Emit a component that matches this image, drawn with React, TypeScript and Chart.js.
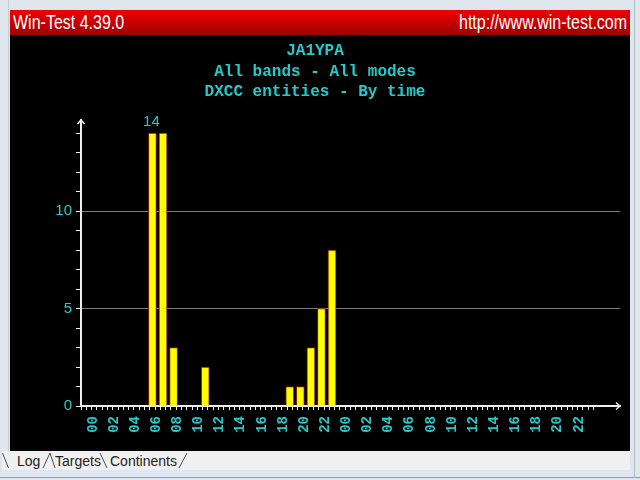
import React, { useEffect, useRef } from "react";
import { Chart, registerables } from "chart.js";

Chart.register(...registerables);

// ---- data ----
const titleLines = ["JA1YPA", "All bands - All modes", "DXCC entities - By time"];
const hourLabels = [
  "00", "01", "02", "03", "04", "05", "06", "07", "08", "09", "10", "11",
  "12", "13", "14", "15", "16", "17", "18", "19", "20", "21", "22", "23",
  "00", "01", "02", "03", "04", "05", "06", "07", "08", "09", "10", "11",
  "12", "13", "14", "15", "16", "17", "18", "19", "20", "21", "22", "23",
];
const dxccCounts = [
  0, 0, 0, 0, 0, 0, 14, 14, 3, 0, 0, 2,
  0, 0, 0, 0, 0, 0, 0, 1, 1, 3, 5, 8,
  0, 0, 0, 0, 0, 0, 0, 0, 0, 0, 0, 0,
  0, 0, 0, 0, 0, 0, 0, 0, 0, 0, 0, 0,
];
const yLabelValues = [0, 5, 10];
const yMax = 14.67;
const tabNames = ["Log", "Targets", "Continents"];

// ---- styles ----
const CYAN = "#22cccc";
const AXIS = "#eeeeee";
const GRID = "#7a7a7a";

const decorPlugin = {
  id: "decor",
  afterDraw(chart: any) {
    const { ctx, chartArea: a } = chart;
    ctx.save();
    ctx.strokeStyle = AXIS;
    ctx.lineWidth = 1.5;
    ctx.beginPath();
    ctx.moveTo(a.left - 3.5, a.top + 4);
    ctx.lineTo(a.left, a.top);
    ctx.lineTo(a.left + 3.5, a.top + 4);
    ctx.stroke();
    ctx.beginPath();
    ctx.moveTo(a.right - 4, a.bottom - 3.5);
    ctx.lineTo(a.right, a.bottom);
    ctx.lineTo(a.right - 4, a.bottom + 3.5);
    ctx.stroke();
    // max label
    const maxVal = Math.max(...dxccCounts);
    const idx = dxccCounts.indexOf(maxVal);
    const el = chart.getDatasetMeta(0).data[idx];
    if (el) {
      ctx.fillStyle = CYAN;
      ctx.font = "15px 'Liberation Sans', Arial, sans-serif";
      ctx.textAlign = "center";
      ctx.textBaseline = "bottom";
      ctx.fillText(String(maxVal), el.x - 1, el.y - 4);
    }
    ctx.restore();
  },
};

function ChartCanvas() {
  const ref = useRef<HTMLCanvasElement | null>(null);
  useEffect(() => {
    const canvas = ref.current;
    if (!canvas) return;
    const xTickValues: number[] = [];
    for (let i = -1; i < hourLabels.length * 2; i++) xTickValues.push(i / 2);
    const yTickValues: number[] = [];
    for (let v = 0; v <= Math.floor(yMax); v++) yTickValues.push(v);

    const points = dxccCounts.map((v, i) => ({ x: i, y: v === 0 ? null : v }));

    const chart = new Chart(canvas, {
      type: "bar",
      data: {
        datasets: [
          {
            data: points as any,
            backgroundColor: "#ffff00",
            borderColor: "#8a2200",
            borderWidth: 1,
            borderSkipped: "start",
            barThickness: 8,
          },
        ],
      },
      options: {
        animation: false,
        responsive: false,
        devicePixelRatio: 1,
        layout: { padding: { left: 0, right: 10, top: 0, bottom: 0 } },
        plugins: {
          legend: { display: false },
          tooltip: { enabled: false },
          title: {
            display: true,
            text: titleLines,
            color: CYAN,
            font: { family: "'Liberation Mono', 'Courier New', monospace", size: 16, weight: "bold", lineHeight: 1.28 },
            padding: { top: 6, bottom: 17.5 },
          },
        },
        scales: {
          x: {
            type: "linear",
            bounds: "data",
            min: -0.5,
            max: 50,
            afterBuildTicks: (s: any) => {
              s.ticks = xTickValues.map((v) => ({ value: v }));
            },
            afterFit: (s: any) => {
              s.height = 45;
            },
            ticks: {
              autoSkip: false,
              minRotation: 90,
              maxRotation: 90,
              labelOffset: 4,
              padding: 6,
              color: CYAN,
              font: { family: "'Liberation Mono', monospace", size: 14, weight: "bold" },
              callback: (v: any) => {
                const n = Number(v);
                return Number.isInteger(n) && n >= 0 && n < hourLabels.length && n % 2 === 0 ? hourLabels[n] : "";
              },
            },
            grid: {
              drawOnChartArea: false,
              drawTicks: true,
              tickLength: 4,
              tickColor: AXIS,
              tickWidth: 1,
            },
            border: { display: true, color: AXIS, width: 2 },
          },
          y: {
            type: "linear",
            bounds: "data",
            min: 0,
            max: yMax,
            afterBuildTicks: (s: any) => {
              s.ticks = yTickValues.map((v) => ({ value: v }));
            },
            afterFit: (s: any) => {
              s.width = 71;
            },
            ticks: {
              autoSkip: false,
              padding: 4,
              color: CYAN,
              font: { family: "'Liberation Sans', Arial, sans-serif", size: 15 },
              callback: (v: any) => (yLabelValues.includes(Number(v)) ? String(v) : ""),
            },
            grid: {
              drawOnChartArea: true,
              drawTicks: true,
              tickLength: 5,
              tickColor: AXIS,
              lineWidth: 1,
              color: (c: any) =>
                c.tick && c.tick.value > 0 && yLabelValues.includes(c.tick.value) ? GRID : "rgba(0,0,0,0)",
            },
            border: { display: true, color: AXIS, width: 2 },
          },
        },
      },
      plugins: [decorPlugin],
    } as any);
    return () => chart.destroy();
  }, []);
  return (
    <canvas
      ref={ref}
      width={620}
      height={416}
      style={{ position: "absolute", left: 10, top: 35, width: 620, height: 416, background: "#000" }}
    />
  );
}

export default function App() {
  const tabFont = "'Liberation Sans', Arial, sans-serif";
  return (
    <div
      style={{
        position: "fixed",
        left: 0,
        top: 0,
        width: 640,
        height: 480,
        background: "#dfe6ee",
        overflow: "hidden",
      }}
    >
      <div style={{ position: "absolute", left: 8, top: 0, width: 1, height: 478, background: "#c4ccd6" }} />
      <div
        style={{
          position: "absolute",
          left: 10,
          top: 10,
          width: 620,
          height: 25,
          background: "linear-gradient(#f00000, #a00000)",
          color: "#fff",
          fontFamily: "'Liberation Sans', Arial, sans-serif",
          fontSize: 20,
          lineHeight: "25px",
          whiteSpace: "nowrap",
        }}
      >
        <span style={{ position: "absolute", left: 3, top: 0, transform: "scaleX(0.8)", transformOrigin: "left center" }}>
          Win-Test 4.39.0
        </span>
        <span style={{ position: "absolute", right: 3, top: 0, transform: "scaleX(0.8)", transformOrigin: "right center" }}>
          http://www.win-test.com
        </span>
      </div>
      <ChartCanvas />
      <div style={{ position: "absolute", left: 2, top: 451, width: 628, height: 19, background: "#f0f0f0" }} />
      <div style={{ position: "absolute", left: 0, top: 470, width: 634, height: 7, background: "#dde6f1" }} />
      <div style={{ position: "absolute", left: 0, top: 477, width: 640, height: 1, background: "#9a9a9a" }} />
      <div style={{ position: "absolute", left: 634, top: 0, width: 1, height: 478, background: "#b4bcc6" }} />
      <svg width={640} height={20} style={{ position: "absolute", left: 0, top: 451 }}>
        <g stroke="#505050" strokeWidth={1} fill="none">
          <line x1={2.5} y1={2} x2={8.5} y2={17} />
          <line x1={43} y1={17} x2={50} y2={2} />
          <line x1={50} y1={2} x2={55} y2={17} />
          <line x1={100} y1={2} x2={107} y2={17} />
          <line x1={179} y1={17} x2={187} y2={2} />
        </g>
        <g fill="#222" fontFamily={tabFont} fontSize={14}>
          <text x={17} y={15}>{tabNames[0]}</text>
          <text x={55} y={15}>{tabNames[1]}</text>
          <text x={110} y={15}>{tabNames[2]}</text>
        </g>
      </svg>
    </div>
  );
}
